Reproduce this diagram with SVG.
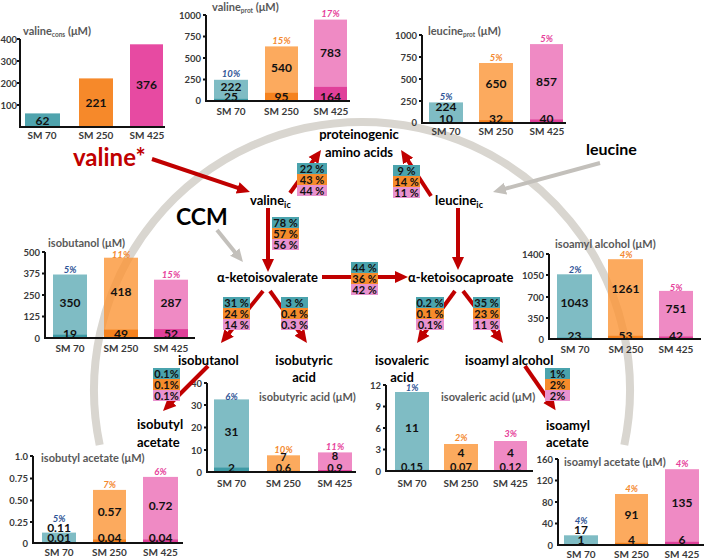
<svg xmlns="http://www.w3.org/2000/svg" width="709" height="560" viewBox="0 0 709 560">
<style>
text{font-family:Lato,"Liberation Sans",sans-serif;font-weight:700}
.ax{font-size:9.5px;fill:#3a3a3a;text-anchor:end}
.xl{font-size:10px;fill:#3a3a3a;text-anchor:middle}
.ttl{font-size:11px;fill:#595959}
.sub{font-size:6.5px}
.n{font-size:12px;fill:#111;text-anchor:middle}
.ns{font-size:11px;fill:#111;text-anchor:middle}
.p{font-size:9.5px;font-style:italic;text-anchor:middle}
.pb{fill:#2f5597}.po{fill:#f4892f}.pp{fill:#e63f9b}
.l{font-size:13px;fill:#000}
.lc{font-size:13px;fill:#000;text-anchor:middle}
.bx{font-size:11px;fill:#111;text-anchor:middle}
.axl{stroke:#111;stroke-width:2;fill:none}
.tl{fill:#5fabb5;fill-opacity:.8}.td{fill:#3e9aa5}
.ol{fill:#fb9536;fill-opacity:.8}.od{fill:#f5821e}
.pl{fill:#eb6db5;fill-opacity:.8}.pd{fill:#e0409a}
.rt{fill:#4aa3ad}.ro{fill:#f68b2b}.rp{fill:#e892cf}
.arr{stroke:#c00000;stroke-width:4;fill:none;marker-end:url(#ah)}
.garr{stroke:#c3c0bb;stroke-width:4;fill:none;marker-end:url(#gh)}
</style>
<defs>
<marker id="ah" markerUnits="userSpaceOnUse" markerWidth="14" markerHeight="14" refX="1" refY="7" orient="auto"><path d="M0,1 L13,7 L0,13 z" fill="#c00000"/></marker>
<marker id="gh" markerUnits="userSpaceOnUse" markerWidth="14" markerHeight="14" refX="1" refY="7" orient="auto"><path d="M0,1 L13,7 L0,13 z" fill="#c3c0bb"/></marker>
</defs>
<rect width="709" height="560" fill="#fff"/>
<path id="ccm-arc" d="M99.7,445 A268,268 0 1 1 624.3,445" fill="none" stroke="#d9d6d0" stroke-width="8"/>

<g id="chart-valine-cons">
<text class="ttl" x="23" y="35">valine<tspan class="sub" dy="2">cons</tspan><tspan dy="-2"> (μM)</tspan></text>
<rect x="25" y="113.4" width="35" height="13.6" fill="#4fa3ad"/>
<rect x="79" y="78.4" width="34" height="48.6" fill="#f6892a"/>
<rect x="130" y="44.3" width="33" height="82.7" fill="#e74aa2"/>
<path class="axl" d="M20,39 V127 H165 M17,39 H20 M17,61 H20 M17,83 H20 M17,105 H20"/>
<text class="ax" x="17" y="42.5">400</text><text class="ax" x="17" y="64.5">300</text><text class="ax" x="17" y="86.5">200</text><text class="ax" x="17" y="108.5">100</text>
<text class="n" x="42.5" y="125">62</text><text class="n" x="96" y="107">221</text><text class="n" x="146.5" y="89">376</text>
<text class="xl" x="42" y="139">SM 70</text><text class="xl" x="96" y="139">SM 250</text><text class="xl" x="147" y="139">SM 425</text>
</g>

<g id="chart-valine-prot">
<text class="ttl" x="212" y="11">valine<tspan class="sub" dy="2">prot</tspan><tspan dy="-2"> (μM)</tspan></text>
<rect class="tl" x="214" y="79.8" width="34" height="21.2"/><rect class="td" x="214" y="98.85" width="34" height="2.15"/>
<rect class="ol" x="265" y="46.4" width="33" height="54.6"/><rect class="od" x="265" y="92.8" width="33" height="8.2"/>
<rect class="pl" x="314" y="19.6" width="33" height="81.4"/><rect class="pd" x="314" y="86.9" width="33" height="14.1"/>
<path class="axl" d="M206,15 V101 H350 M203,15 H206 M203,36.5 H206 M203,58 H206 M203,79.5 H206"/>
<text class="ax" x="201" y="18.5">1000</text><text class="ax" x="201" y="40">750</text><text class="ax" x="201" y="61.5">500</text><text class="ax" x="201" y="83">250</text><text class="ax" x="201" y="104">0</text>
<text class="p pb" x="231" y="76.5">10%</text><text class="p po" x="281.5" y="43.5">15%</text><text class="p pp" x="330.5" y="16.5">17%</text>
<text class="n" x="231" y="90.5">222</text><text class="n" x="231" y="100.5">25</text>
<text class="n" x="281.5" y="72">540</text><text class="n" x="281.5" y="100.5">95</text>
<text class="n" x="330.5" y="57">783</text><text class="n" x="330.5" y="100.5">164</text>
<text class="xl" x="231" y="115">SM 70</text><text class="xl" x="281.5" y="115">SM 250</text><text class="xl" x="331" y="115">SM 425</text>
</g>

<g id="chart-leucine-prot">
<text class="ttl" x="428" y="35">leucine<tspan class="sub" dy="2">prot</tspan><tspan dy="-2"> (μM)</tspan></text>
<rect class="tl" x="429" y="102.4" width="34" height="20.6"/><rect class="td" x="429" y="122.1" width="34" height="0.9"/>
<rect class="ol" x="479" y="63" width="34" height="60"/><rect class="od" x="479" y="120.2" width="34" height="2.8"/>
<rect class="pl" x="530" y="44.1" width="33" height="78.9"/><rect class="pd" x="530" y="119.5" width="33" height="3.5"/>
<path class="axl" d="M422,35 V123 H566 M419,35 H422 M419,57 H422 M419,79 H422 M419,101 H422"/>
<text class="ax" x="417" y="38.5">1000</text><text class="ax" x="417" y="60.5">750</text><text class="ax" x="417" y="82.5">500</text><text class="ax" x="417" y="104.5">250</text><text class="ax" x="417" y="126">0</text>
<text class="p pb" x="446" y="99.5">5%</text><text class="p po" x="496" y="60.5">5%</text><text class="p pp" x="546.5" y="41.5">5%</text>
<text class="n" x="446" y="111">224</text><text class="n" x="446" y="122.5">10</text>
<text class="n" x="496" y="88">650</text><text class="n" x="496" y="122.5">32</text>
<text class="n" x="546.5" y="86">857</text><text class="n" x="546.5" y="122.5">40</text>
<text class="xl" x="446" y="135">SM 70</text><text class="xl" x="496" y="135">SM 250</text><text class="xl" x="547" y="135">SM 425</text>
</g>

<g id="chart-isobutanol">
<text class="ttl" x="48" y="247">isobutanol (μM)</text>
<rect class="tl" x="53" y="274.5" width="34" height="63.5"/><rect class="td" x="53" y="334.7" width="34" height="3.3"/>
<rect class="ol" x="104" y="257.7" width="34" height="80.3"/><rect class="od" x="104" y="329.6" width="34" height="8.4"/>
<rect class="pl" x="154" y="279.7" width="34" height="58.3"/><rect class="pd" x="154" y="329.1" width="34" height="8.9"/>
<path class="axl" d="M45,252 V338 H195 M42,252 H45 M42,273.5 H45 M42,295 H45 M42,316.5 H45"/>
<text class="ax" x="40" y="255.5">500</text><text class="ax" x="40" y="277">375</text><text class="ax" x="40" y="298.5">250</text><text class="ax" x="40" y="320">125</text><text class="ax" x="40" y="341.5">0</text>
<text class="p pb" x="70" y="272.5">5%</text><text class="p po" x="121" y="257.5">11%</text><text class="p pp" x="171" y="277.5">15%</text>
<text class="n" x="70" y="307">350</text><text class="n" x="70" y="337.5">19</text>
<text class="n" x="121" y="296">418</text><text class="n" x="121" y="337.5">49</text>
<text class="n" x="171" y="307">287</text><text class="n" x="171" y="337.5">52</text>
<text class="xl" x="70" y="352">SM 70</text><text class="xl" x="121" y="352">SM 250</text><text class="xl" x="171" y="352">SM 425</text>
</g>

<g id="chart-isoamyl-alcohol">
<text class="ttl" x="555" y="248">isoamyl alcohol (μM)</text>
<rect class="tl" x="557" y="274.3" width="35" height="64.7"/><rect class="td" x="557" y="337.6" width="35" height="1.4"/>
<rect class="ol" x="608" y="259.2" width="35" height="79.8"/><rect class="od" x="608" y="335.8" width="35" height="3.2"/>
<rect class="pl" x="659" y="290.9" width="34" height="48.1"/><rect class="pd" x="659" y="336.5" width="34" height="2.5"/>
<path class="axl" d="M549,254 V339 H701 M546,254 H549 M546,275 H549 M546,297 H549 M546,318 H549"/>
<text class="ax" x="544" y="257.5">1400</text><text class="ax" x="544" y="278.5">1050</text><text class="ax" x="544" y="300.5">700</text><text class="ax" x="544" y="321.5">350</text><text class="ax" x="544" y="342.5">0</text>
<text class="p pb" x="575" y="272.5">2%</text><text class="p po" x="626" y="257.5">4%</text><text class="p pp" x="676" y="290.5">5%</text>
<text class="n" x="574.5" y="307">1043</text><text class="n" x="574.5" y="340">23</text>
<text class="n" x="625.5" y="293">1261</text><text class="n" x="625.5" y="340">53</text>
<text class="n" x="676" y="313">751</text><text class="n" x="676" y="340">42</text>
<text class="xl" x="575" y="353">SM 70</text><text class="xl" x="626" y="353">SM 250</text><text class="xl" x="676" y="353">SM 425</text>
</g>

<g id="chart-isobutyric-acid">
<text class="ttl" x="259" y="401">isobutyric acid (μM)</text>
<rect class="tl" x="214" y="399.4" width="35" height="72.6"/><rect class="td" x="214" y="467.6" width="35" height="4.4"/>
<rect class="ol" x="267" y="455.3" width="33" height="16.7"/><rect class="od" x="267" y="470.7" width="33" height="1.3"/>
<rect class="pl" x="318" y="452.4" width="34" height="19.6"/><rect class="pd" x="318" y="470" width="34" height="2"/>
<path class="axl" d="M207,383 V472 H356 M204,383 H207 M204,405 H207 M204,427.5 H207 M204,450 H207"/>
<text class="ax" x="202" y="386.5">40</text><text class="ax" x="202" y="408.5">30</text><text class="ax" x="202" y="431">20</text><text class="ax" x="202" y="453.5">10</text><text class="ax" x="202" y="475.5">0</text>
<text class="p pb" x="231.5" y="399.5">6%</text><text class="p po" x="283.5" y="452.5">10%</text><text class="p pp" x="335" y="449.5">11%</text>
<text class="n" x="231.5" y="436">31</text><text class="n" x="231.5" y="471.5">2</text>
<text class="ns" x="283.5" y="461">7</text><text class="ns" x="283.5" y="471.5">0.6</text>
<text class="ns" x="335" y="460">8</text><text class="ns" x="335" y="471.5">0.9</text>
<text class="xl" x="231.5" y="487">SM 70</text><text class="xl" x="283.5" y="487">SM 250</text><text class="xl" x="335" y="487">SM 425</text>
</g>

<g id="chart-isovaleric-acid">
<text class="ttl" x="441" y="401">isovaleric acid (μM)</text>
<rect class="tl" x="395" y="392" width="34" height="79"/><rect class="td" x="395" y="469.9" width="34" height="1.1"/>
<rect class="ol" x="444" y="444" width="34" height="27"/><rect class="od" x="444" y="470.4" width="34" height="0.6"/>
<rect class="pl" x="494" y="441" width="33" height="30"/><rect class="pd" x="494" y="470.1" width="33" height="0.9"/>
<path class="axl" d="M386,385 V471 H533 M383,385 H386 M383,406.5 H386 M383,428 H386 M383,449.5 H386"/>
<text class="ax" x="381" y="388.5">12</text><text class="ax" x="381" y="410">9</text><text class="ax" x="381" y="431.5">6</text><text class="ax" x="381" y="453">3</text><text class="ax" x="381" y="474.5">0</text>
<text class="p pb" x="412" y="391">1%</text><text class="p po" x="461" y="441">2%</text><text class="p pp" x="510.5" y="437">3%</text>
<text class="n" x="412" y="432">11</text><text class="ns" x="412" y="471">0.15</text>
<text class="n" x="461" y="457">4</text><text class="ns" x="461" y="471">0.07</text>
<text class="n" x="510.5" y="457">4</text><text class="ns" x="510.5" y="471">0.12</text>
<text class="xl" x="412" y="487">SM 70</text><text class="xl" x="461" y="487">SM 250</text><text class="xl" x="510.5" y="487">SM 425</text>
</g>

<g id="chart-isobutyl-acetate">
<text class="ttl" x="41" y="462">isobutyl acetate (μM)</text>
<rect class="tl" x="42" y="532.6" width="34" height="10.4"/><rect class="td" x="42" y="542.1" width="34" height="0.9"/>
<rect class="ol" x="93" y="489.9" width="33" height="53.1"/><rect class="od" x="93" y="539.5" width="33" height="3.5"/>
<rect class="pl" x="143" y="476.9" width="35" height="66.1"/><rect class="pd" x="143" y="539.5" width="35" height="3.5"/>
<path class="axl" d="M33,456 V543 H183 M30,456 H33 M30,478.5 H33 M30,500.5 H33 M30,522 H33"/>
<text class="ax" x="28" y="459.5">1.0</text><text class="ax" x="28" y="482">0.75</text><text class="ax" x="28" y="504">0.50</text><text class="ax" x="28" y="525.5">0.25</text><text class="ax" x="28" y="546.5">0</text>
<text class="p pb" x="59" y="521.5">5%</text><text class="p po" x="109.5" y="487.5">7%</text><text class="p pp" x="160.5" y="474.5">6%</text>
<text class="n" x="59" y="532">0.11</text><text class="n" x="59" y="542">0.01</text>
<text class="n" x="109.5" y="516">0.57</text><text class="n" x="109.5" y="542">0.04</text>
<text class="n" x="160.5" y="510">0.72</text><text class="n" x="160.5" y="542">0.04</text>
<text class="xl" x="59" y="556">SM 70</text><text class="xl" x="109.5" y="556">SM 250</text><text class="xl" x="160.5" y="556">SM 425</text>
</g>

<g id="chart-isoamyl-acetate">
<text class="ttl" x="564" y="466">isoamyl acetate (μM)</text>
<rect class="tl" x="564" y="535.3" width="34" height="9.7"/><rect class="td" x="564" y="544" width="34" height="1"/>
<rect class="ol" x="615" y="494" width="33" height="51"/><rect class="od" x="615" y="542.8" width="33" height="2.2"/>
<rect class="pl" x="665" y="469.2" width="34" height="75.8"/><rect class="pd" x="665" y="541.8" width="34" height="3.2"/>
<path class="axl" d="M558,459 V545 H704 M555,459 H558 M555,480.5 H558 M555,502 H558 M555,523.5 H558"/>
<text class="ax" x="553" y="462.5">160</text><text class="ax" x="553" y="484">120</text><text class="ax" x="553" y="505.5">80</text><text class="ax" x="553" y="527">40</text><text class="ax" x="553" y="548.5">0</text>
<text class="p pb" x="581" y="523.5">4%</text><text class="p po" x="631.5" y="491.5">4%</text><text class="p pp" x="682" y="466.5">4%</text>
<text class="n" x="581" y="534">17</text><text class="n" x="581" y="544">1</text>
<text class="n" x="631.5" y="519">91</text><text class="n" x="631.5" y="544">4</text>
<text class="n" x="682" y="507">135</text><text class="n" x="682" y="544">6</text>
<text class="xl" x="581" y="558">SM 70</text><text class="xl" x="631.5" y="558">SM 250</text><text class="xl" x="682" y="558">SM 425</text>
</g>

<g id="connectors">
<path class="arr" d="M152,159 L238.6,188.2"/>
<path class="arr" d="M290,193 L314,159.7"/>
<path class="arr" d="M268,208 L268,260"/>
<path class="arr" d="M431,196 L407.6,160.1"/>
<path class="arr" d="M458,208 L458,258"/>
<path class="arr" d="M322,277 L396,277"/>
<path class="arr" d="M263,291 L228.5,333.7"/>
<path class="arr" d="M270,291 L300,333.2"/>
<path class="arr" d="M455,291 L424.1,333.3"/>
<path class="arr" d="M463,291 L495.7,333.5"/>
<path class="arr" d="M208,366 L171.5,402.5"/>
<path class="arr" d="M525,366 L548.8,400.4"/>
<path class="garr" d="M217,230 L235.4,252.7"/>
<path class="garr" d="M600,163 L504.6,188.9"/>
</g>

<g id="pct-prot-val" transform="translate(297,163)">
<rect class="rt" width="30" height="11"/><rect class="ro" y="11" width="30" height="11"/><rect class="rp" y="22" width="30" height="11"/>
<text class="bx" x="15" y="9.5">22 %</text><text class="bx" x="15" y="20.5">43 %</text><text class="bx" x="15" y="31.5">44 %</text>
</g>
<g id="pct-val-kiv" transform="translate(272,217)">
<rect class="rt" width="27" height="11"/><rect class="ro" y="11" width="27" height="11"/><rect class="rp" y="22" width="27" height="11"/>
<text class="bx" x="13.5" y="9.5">78 %</text><text class="bx" x="13.5" y="20.5">57 %</text><text class="bx" x="13.5" y="31.5">56 %</text>
</g>
<g id="pct-prot-leu" transform="translate(393,165)">
<rect class="rt" width="27" height="11"/><rect class="ro" y="11" width="27" height="11"/><rect class="rp" y="22" width="27" height="11"/>
<text class="bx" x="13.5" y="9.5">9 %</text><text class="bx" x="13.5" y="20.5">14 %</text><text class="bx" x="13.5" y="31.5">11 %</text>
</g>
<g id="pct-kiv-kic" transform="translate(351,262)">
<rect class="rt" width="27" height="11"/><rect class="ro" y="11" width="27" height="11"/><rect class="rp" y="22" width="27" height="11"/>
<text class="bx" x="13.5" y="9.5">44 %</text><text class="bx" x="13.5" y="20.5">36 %</text><text class="bx" x="13.5" y="31.5">42 %</text>
</g>
<g id="pct-isobutanol" transform="translate(223,297)">
<rect class="rt" width="27" height="11"/><rect class="ro" y="11" width="27" height="11"/><rect class="rp" y="22" width="27" height="11"/>
<text class="bx" x="13.5" y="9.5">31 %</text><text class="bx" x="13.5" y="20.5">24 %</text><text class="bx" x="13.5" y="31.5">14 %</text>
</g>
<g id="pct-isobutyric" transform="translate(281,297)">
<rect class="rt" width="27" height="11"/><rect class="ro" y="11" width="27" height="11"/><rect class="rp" y="22" width="27" height="11"/>
<text class="bx" x="13.5" y="9.5">3 %</text><text class="bx" x="13.5" y="20.5">0.4 %</text><text class="bx" x="13.5" y="31.5">0.3 %</text>
</g>
<g id="pct-isovaleric" transform="translate(416,297)">
<rect class="rt" width="28" height="11"/><rect class="ro" y="11" width="28" height="11"/><rect class="rp" y="22" width="28" height="11"/>
<text class="bx" x="14" y="9.5">0.2 %</text><text class="bx" x="14" y="20.5">0.1 %</text><text class="bx" x="14" y="31.5">0.1%</text>
</g>
<g id="pct-isoamyl" transform="translate(473,297)">
<rect class="rt" width="27" height="11"/><rect class="ro" y="11" width="27" height="11"/><rect class="rp" y="22" width="27" height="11"/>
<text class="bx" x="13.5" y="9.5">35 %</text><text class="bx" x="13.5" y="20.5">23 %</text><text class="bx" x="13.5" y="31.5">11 %</text>
</g>
<g id="pct-isobutyl-acetate" transform="translate(153,368)">
<rect class="rt" width="27" height="11"/><rect class="ro" y="11" width="27" height="11"/><rect class="rp" y="22" width="27" height="11"/>
<text class="bx" x="13.5" y="9.5">0.1%</text><text class="bx" x="13.5" y="20.5">0.1%</text><text class="bx" x="13.5" y="31.5">0.1%</text>
</g>
<g id="pct-isoamyl-acetate" transform="translate(545,368)">
<rect class="rt" width="25" height="11"/><rect class="ro" y="11" width="25" height="11"/><rect class="rp" y="22" width="25" height="11"/>
<text class="bx" x="12.5" y="9.5">1%</text><text class="bx" x="12.5" y="20.5">2%</text><text class="bx" x="12.5" y="31.5">2%</text>
</g>

<g id="node-valine-ext"><text x="73" y="166" font-size="24" fill="#c00000">valine*</text></g>
<g id="node-ccm"><text x="176" y="225" font-size="23" fill="#000">CCM</text></g>
<g id="node-valine-ic"><text class="l" x="250" y="205">valine<tspan font-size="9" dy="3">ic</tspan></text></g>
<g id="node-proteinogenic"><text class="lc" x="359" y="139">proteinogenic</text><text class="lc" x="359" y="157">amino acids</text></g>
<g id="node-leucine-ext"><text x="586" y="155" font-size="16" fill="#000">leucine</text></g>
<g id="node-leucine-ic"><text class="l" x="435" y="205">leucine<tspan font-size="9" dy="3">ic</tspan></text></g>
<g id="node-kiv"><text class="l" x="217" y="282">α-ketoisovalerate</text></g>
<g id="node-kic"><text class="l" x="408" y="282">α-ketoisocaproate</text></g>
<g id="node-isobutanol"><text class="l" x="178" y="365">isobutanol</text></g>
<g id="node-isobutyric"><text class="lc" x="304" y="365">isobutyric</text><text class="lc" x="304" y="382">acid</text></g>
<g id="node-isovaleric"><text class="lc" x="402" y="365">isovaleric</text><text class="lc" x="402" y="382">acid</text></g>
<g id="node-isoamyl-alcohol"><text class="l" x="465" y="365">isoamyl alcohol</text></g>
<g id="node-isobutyl-acetate"><text class="l" x="137" y="429">isobutyl</text><text class="l" x="137" y="447">acetate</text></g>
<g id="node-isoamyl-acetate"><text class="l" x="546" y="430">isoamyl</text><text class="l" x="546" y="447">acetate</text></g>
</svg>
